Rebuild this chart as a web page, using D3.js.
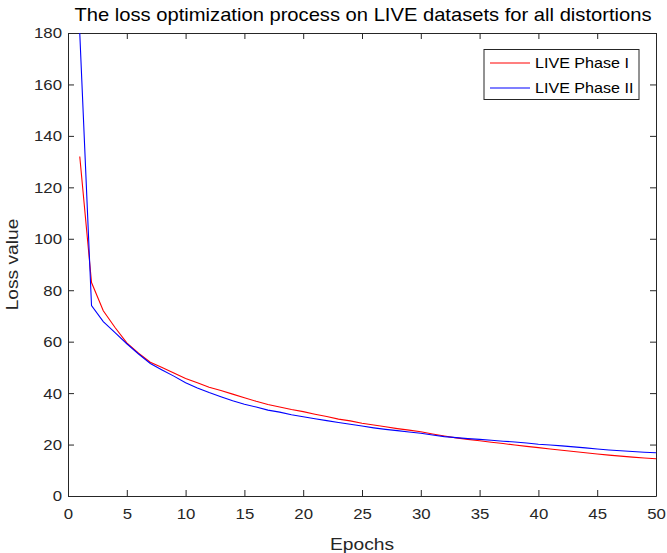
<!DOCTYPE html>
<html>
<head>
<meta charset="utf-8">
<script src="https://cdn.jsdelivr.net/npm/d3@7"></script>
<style>
  body { margin: 0; background: #fff; }
  text { font-family: "Liberation Sans", Arial, sans-serif; }
</style>
</head>
<body>
<svg id="chart" width="667" height="553"></svg>
<script>
const epochs = d3.range(1, 51);
const phase1 = [132, 83, 72, 65.5, 59.5, 55.5, 52, 50, 47.8, 45.7,
  44, 42.3, 41, 39.6, 38.2, 36.8, 35.6, 34.6, 33.6, 32.8,
  31.8, 30.9, 29.9, 29.2, 28.3, 27.6, 26.9, 26.2, 25.6, 25.0,
  24.1, 23.3, 22.6, 22.0, 21.5, 20.9, 20.4, 19.8, 19.3, 18.8,
  18.3, 17.8, 17.3, 16.8, 16.3, 15.9, 15.5, 15.1, 14.8, 14.5];
const phase2 = [180, 74, 67.8, 63.5, 59.2, 55.2, 51.5, 49, 46.6, 44,
  42, 40.2, 38.6, 37, 35.7, 34.6, 33.4, 32.6, 31.6, 30.8,
  30, 29.3, 28.6, 27.9, 27.2, 26.5, 25.9, 25.4, 24.9, 24.4,
  23.7, 23.1, 22.7, 22.3, 22.0, 21.7, 21.3, 21.0, 20.6, 20.1,
  19.8, 19.5, 19.1, 18.7, 18.3, 17.9, 17.6, 17.3, 17.0, 16.8];
const xTicks = [0, 5, 10, 15, 20, 25, 30, 35, 40, 45, 50];
const yTicks = [0, 20, 40, 60, 80, 100, 120, 140, 160, 180];
const seriesNames = ['LIVE Phase I', 'LIVE Phase II'];
const seriesColors = ['#ff0000', '#0000ff'];

const pL = 68, pR = 656, pT = 33, pB = 496;
const svg = d3.select('#chart');
const x = d3.scaleLinear().domain([0, 50]).range([pL, pR]);
const y = d3.scaleLinear().domain([0, 180]).range([pB, pT]);
const axisColor = '#262626';
const stretch = 1.2; // reference text renders wider than Liberation Sans

svg.append('defs').append('clipPath').attr('id', 'clip')
  .append('rect').attr('x', pL).attr('y', pT)
  .attr('width', pR - pL).attr('height', pB - pT);

// axes (ticks inside, box on)
const gx = svg.append('g').attr('transform', `translate(0,${pB})`)
  .call(d3.axisBottom(x).tickValues(xTicks).tickSizeInner(-6).tickSizeOuter(0).tickPadding(13));
const gxTop = svg.append('g').attr('transform', `translate(0,${pT})`)
  .call(d3.axisTop(x).tickValues(xTicks).tickSizeInner(-6).tickSizeOuter(0).tickFormat(''));
const gy = svg.append('g').attr('transform', `translate(${pL},0)`)
  .call(d3.axisLeft(y).tickValues(yTicks).tickSizeInner(-6).tickSizeOuter(0).tickPadding(6));
const gyRight = svg.append('g').attr('transform', `translate(${pR},0)`)
  .call(d3.axisRight(y).tickValues(yTicks).tickSizeInner(-6).tickSizeOuter(0).tickFormat(''));

[gx, gxTop, gy, gyRight].forEach(g => {
  g.select('.domain').attr('stroke', axisColor).attr('stroke-width', 1);
  g.selectAll('.tick line').attr('stroke', axisColor);
  g.selectAll('.tick text').attr('fill', axisColor).style('font-size', '14px')
    .attr('font-family', '"Liberation Sans", Arial, sans-serif');
});
gy.selectAll('.tick text').attr('dy', '0.35em')
  .attr('transform', `translate(-6,0) scale(${stretch},1) translate(6,0)`);
gx.selectAll('.tick text').attr('transform', `scale(${stretch},1)`);

const line = d3.line().x((d, i) => x(epochs[i])).y(d => y(d));
[phase1, phase2].forEach((s, k) => {
  svg.append('path').datum(s)
    .attr('clip-path', 'url(#clip)')
    .attr('fill', 'none')
    .attr('stroke', seriesColors[k])
    .attr('stroke-width', 1.1)
    .attr('d', line);
});

// title & labels
svg.append('text').attr('x', (pL + pR) / 2 + 1).attr('y', 21)
  .attr('text-anchor', 'middle').style('font-size', '18.5px').attr('fill', '#000')
  .attr('textLength', 577).attr('lengthAdjust', 'spacingAndGlyphs')
  .text('The loss optimization process on LIVE datasets for all distortions');
svg.append('text')
  .attr('transform', `translate(${(pL + pR) / 2},550) scale(${stretch},1)`)
  .attr('text-anchor', 'middle').style('font-size', '16px').attr('fill', axisColor)
  .text('Epochs');
svg.append('text').attr('transform', `translate(18,${(pT + pB) / 2}) rotate(-90) scale(${stretch},1)`)
  .attr('text-anchor', 'middle').style('font-size', '16px').attr('fill', axisColor)
  .text('Loss value');

// legend
const lg = svg.append('g');
lg.append('rect').attr('x', 484).attr('y', 49.5).attr('width', 155).attr('height', 50)
  .attr('fill', '#fff').attr('stroke', axisColor).attr('stroke-width', 1);
seriesNames.forEach((name, i) => {
  const yy = 63 + i * 25;
  lg.append('line').attr('x1', 490).attr('x2', 530).attr('y1', yy).attr('y2', yy)
    .attr('stroke', seriesColors[i]).attr('stroke-width', 1.1);
  lg.append('text').attr('transform', `translate(535,${yy}) scale(1.15,1)`).attr('dy', '0.35em')
    .style('font-size', '14px').attr('fill', '#000').text(name);
});
</script>
</body>
</html>
